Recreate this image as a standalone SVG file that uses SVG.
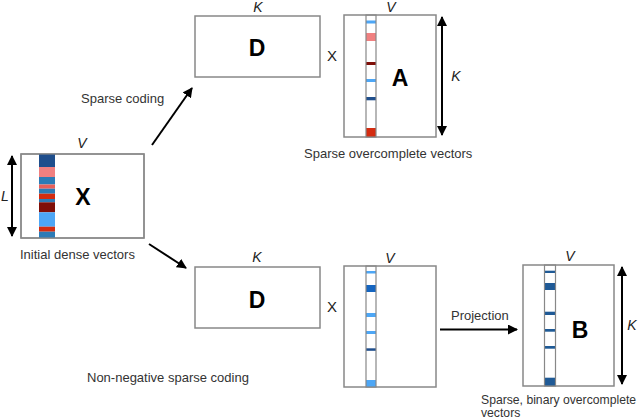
<svg xmlns="http://www.w3.org/2000/svg" width="640" height="419" viewBox="0 0 640 419">
<defs>
<style>
.box{fill:#fff;stroke:#888;stroke-width:1.5}
.col{fill:none;stroke:#888;stroke-width:1.2}
.lbl{font-family:"Liberation Sans",Arial,sans-serif;font-size:13px;fill:#333}
.it{font-family:"Liberation Sans",Arial,sans-serif;font-size:14px;font-style:italic;fill:#222;text-anchor:middle}
.big{font-family:"Liberation Sans",Arial,sans-serif;font-size:23px;font-weight:bold;fill:#000;text-anchor:middle}
.mul{font-family:"Liberation Sans",Arial,sans-serif;font-size:15px;fill:#222;text-anchor:middle}
.ln{stroke:#000;stroke-width:2;fill:none}
.db{fill:#1f4e8c}.bl{fill:#2c7bb6}.lb{fill:#4da6f5}.pk{fill:#f08080}.rd{fill:#d42c10}.dr{fill:#7f0f08}.mb{fill:#1565c0}.bb{fill:#1f5a96}
</style>
<marker id="ah" viewBox="0 0 10 10" refX="9" refY="5" markerWidth="5" markerHeight="5" orient="auto-start-reverse">
<path d="M0,0 L10,5 L0,10 z" fill="#000"/>
</marker>
</defs>

<g id="X">
<rect class="box" x="21" y="154" width="123" height="84"/>
<rect class="db" x="39" y="154" width="16" height="13"/>
<rect class="pk" x="39" y="167" width="16" height="10"/>
<rect class="bl" x="39" y="177" width="16" height="7.5"/>
<rect fill="#e8605a" x="39" y="184.5" width="16" height="4.2"/>
<rect class="bl" x="39" y="188.7" width="16" height="5"/>
<rect class="rd" x="39" y="193.7" width="16" height="5.3"/>
<rect class="bl" x="39" y="199" width="16" height="3.3"/>
<rect class="dr" x="39" y="202.3" width="16" height="10"/>
<rect class="lb" x="39" y="212.3" width="16" height="14.4"/>
<rect class="rd" x="39" y="226.7" width="16" height="5"/>
<rect class="bl" x="39" y="231.7" width="16" height="6.3"/>
<rect class="col" x="21" y="154" width="123" height="84"/>
<text class="big" x="83" y="205">X</text>
<text class="it" x="82" y="148">V</text>
<text class="it" x="5" y="201">L</text>
<line class="ln" x1="12" y1="156" x2="12" y2="236" marker-start="url(#ah)" marker-end="url(#ah)"/>
<text class="lbl" x="20" y="259">Initial dense vectors</text>
</g>

<g id="D1">
<rect class="box" x="195" y="16" width="125" height="61"/>
<text class="big" x="257" y="56">D</text>
<text class="it" x="258" y="12">K</text>
<text class="mul" x="332" y="61">X</text>
</g>

<g id="A">
<rect class="box" x="344" y="15" width="92" height="122"/>
<rect class="lb" x="366" y="20.5" width="10" height="3"/>
<rect class="pk" x="366" y="33" width="10" height="8"/>
<rect class="dr" x="366" y="62" width="10" height="3"/>
<rect class="lb" x="366" y="79" width="10" height="3"/>
<rect class="db" x="366" y="97" width="10" height="3.3"/>
<rect class="rd" x="366" y="128" width="10" height="9"/>
<rect class="col" x="366" y="15" width="10" height="122"/>
<text class="big" x="400" y="86">A</text>
<text class="it" x="391" y="12">V</text>
<line class="ln" x1="442" y1="17" x2="442" y2="135" marker-start="url(#ah)" marker-end="url(#ah)"/>
<text class="it" x="456" y="81">K</text>
<text class="lbl" x="304" y="158">Sparse overcomplete vectors</text>
</g>

<g id="D2">
<rect class="box" x="195" y="267" width="125" height="61"/>
<text class="big" x="257" y="308">D</text>
<text class="it" x="257" y="262">K</text>
<text class="mul" x="332" y="312">X</text>
</g>

<g id="S">
<rect class="box" x="344" y="266" width="92" height="121"/>
<rect class="lb" x="366" y="271" width="10" height="2.5"/>
<rect class="mb" x="366" y="285" width="10" height="7"/>
<rect class="lb" x="366" y="313" width="10" height="4"/>
<rect class="lb" x="366" y="331" width="10" height="3"/>
<rect class="db" x="366" y="348.3" width="10" height="2.5"/>
<rect class="lb" x="366" y="380" width="10" height="7"/>
<rect class="col" x="366" y="266" width="10" height="121"/>
<text class="it" x="390" y="263">V</text>
</g>

<g id="B">
<rect class="box" x="523" y="265" width="91" height="121"/>
<rect class="bb" x="544.5" y="270.7" width="11" height="2.3"/>
<rect class="bb" x="544.5" y="283" width="11" height="7"/>
<rect class="bb" x="544.5" y="311.7" width="11" height="3.3"/>
<rect class="bb" x="544.5" y="329" width="11" height="2.7"/>
<rect class="bb" x="544.5" y="346" width="11" height="2.7"/>
<rect class="bb" x="544.5" y="377.7" width="11" height="8.3"/>
<rect class="col" x="544.5" y="265" width="11" height="121"/>
<text class="big" x="580" y="338">B</text>
<text class="it" x="570" y="261">V</text>
<line class="ln" x1="622" y1="267" x2="622" y2="384" marker-start="url(#ah)" marker-end="url(#ah)"/>
<text class="it" x="632" y="330">K</text>
<text class="lbl" x="481" y="404" style="font-size:12.2px">Sparse, binary overcomplete</text>
<text class="lbl" x="481" y="417" style="font-size:12.2px">vectors</text>
</g>

<g id="connectors">
<line class="ln" x1="152" y1="145" x2="192" y2="88" marker-end="url(#ah)"/>
<text class="lbl" x="81" y="103">Sparse coding</text>
<line class="ln" x1="149" y1="244" x2="186" y2="268" marker-end="url(#ah)"/>
<text class="lbl" x="87" y="382">Non-negative sparse coding</text>
<line class="ln" x1="440" y1="329.5" x2="517" y2="329.5" marker-end="url(#ah)"/>
<text class="lbl" x="451" y="320">Projection</text>
</g>
</svg>
